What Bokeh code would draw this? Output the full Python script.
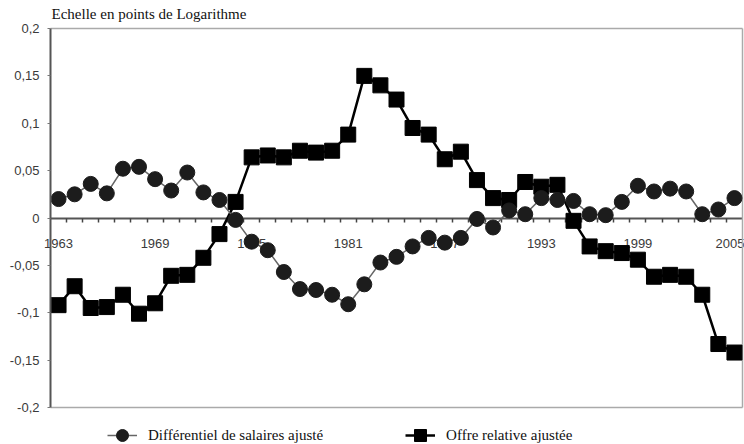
from bokeh.plotting import figure
from bokeh.models import (FixedTicker, CustomJSTickFormatter, Legend, LegendItem,
                          Range1d, Label)
from bokeh.embed import file_html
from bokeh.resources import INLINE

years = list(range(1963, 2006))

salaires = [0.020, 0.025, 0.036, 0.026, 0.052, 0.054, 0.041, 0.029, 0.048, 0.027,
            0.019, -0.002, -0.025, -0.034, -0.057, -0.075, -0.076, -0.081, -0.091,
            -0.070, -0.047, -0.041, -0.030, -0.021, -0.026, -0.021, -0.001, -0.010,
            0.008, 0.004, 0.021, 0.019, 0.018, 0.004, 0.003, 0.017, 0.034, 0.028,
            0.031, 0.028, 0.004, 0.009, 0.021]

offre = [-0.092, -0.072, -0.095, -0.094, -0.081, -0.101, -0.090, -0.061, -0.060,
         -0.042, -0.017, 0.017, 0.064, 0.066, 0.064, 0.071, 0.069, 0.071, 0.088,
         0.150, 0.140, 0.125, 0.095, 0.088, 0.062, 0.070, 0.040, 0.021, 0.019,
         0.038, 0.033, 0.035, -0.003, -0.030, -0.035, -0.037, -0.044, -0.062,
         -0.060, -0.062, -0.081, -0.133, -0.142]

x_labels = [1963, 1969, 1975, 1981, 1987, 1993, 1999, 2005]
y_ticks = [-0.2, -0.15, -0.1, -0.05, 0, 0.05, 0.1, 0.15, 0.2]

title_text = "Echelle en points de Logarithme"
name_salaires = "Différentiel de salaires ajusté"
name_offre = "Offre relative ajustée"

# plot-area limits (data units)
x_lo, x_hi = years[0] - 0.5, years[-1] + 0.5
y_lo, y_hi = y_ticks[0], y_ticks[-1]

W, H = 744, 444
AX_LEFT_PX = 50          # room for y tick labels
RIGHT_PX = 2
TOP_PX = 28              # room for the title
LEG_PX = 37              # room for the legend
px_per_year = (W - AX_LEFT_PX - RIGHT_PX) / (x_hi - x_lo)
px_per_unit = (H - TOP_PX - LEG_PX) / (y_hi - y_lo)

p = figure(width=W, height=H, output_backend="svg", toolbar_location=None,
           x_range=Range1d(x_lo - AX_LEFT_PX / px_per_year,
                           x_hi + RIGHT_PX / px_per_year),
           y_range=Range1d(y_lo - LEG_PX / px_per_unit, y_hi + TOP_PX / px_per_unit),
           min_border_left=0, min_border_right=0, min_border_top=0,
           min_border_bottom=0)

p.grid.visible = False
p.outline_line_color = None
p.background_fill_color = "white"
p.border_fill_color = "white"

# title
p.add_layout(Label(x=AX_LEFT_PX + 1, y=H - 13, x_units="screen", y_units="screen",
                   text=title_text, text_font="Liberation Serif",
                   text_font_size="15px", text_color="#111111",
                   text_baseline="middle", text_align="left"))

# plot-area border (top, right, bottom)
p.segment(x0=[x_lo, x_hi, x_lo], y0=[y_hi, y_lo, y_lo],
          x1=[x_hi, x_hi, x_hi], y1=[y_hi, y_hi, y_lo],
          line_color="#aaaaaa", line_width=1.5)

# y axis on the left edge of the plot area
p.yaxis.fixed_location = x_lo
p.yaxis.bounds = (y_lo, y_hi)
p.yaxis.ticker = FixedTicker(ticks=y_ticks, minor_ticks=[])
p.yaxis.formatter = CustomJSTickFormatter(
    code="var s = tick.toFixed(2).replace(/0+$/, '').replace(/\\.$/, ''); return s.replace('.', ',');")
p.yaxis.axis_line_color = "#555555"
p.yaxis.axis_line_width = 2
p.yaxis.major_tick_out = 3
p.yaxis.major_tick_in = 0
p.yaxis.major_tick_line_color = "#777777"
p.yaxis.major_label_text_font = "Liberation Sans"
p.yaxis.major_label_text_font_size = "13px"
p.yaxis.major_label_text_color = "#3a3a3a"
p.yaxis.major_label_standoff = 8

# x axis at zero
p.xaxis.fixed_location = 0
p.xaxis.bounds = (x_lo, x_hi)
p.xaxis.ticker = FixedTicker(ticks=x_labels,
                             minor_ticks=[y + 0.5 for y in years[:-1]])
p.xaxis.axis_line_color = "#555555"
p.xaxis.axis_line_width = 2
p.xaxis.major_tick_out = 0
p.xaxis.major_tick_in = 0
p.xaxis.minor_tick_out = 4
p.xaxis.minor_tick_in = 0
p.xaxis.minor_tick_line_color = "#444444"
p.xaxis.minor_tick_line_width = 1.5
p.xaxis.major_label_text_font = "Liberation Sans"
p.xaxis.major_label_text_font_size = "13px"
p.xaxis.major_label_text_color = "#3a3a3a"
p.xaxis.major_label_standoff = 17
p.xaxis.level = "underlay"

# series
l_off = p.line(years, offre, line_color="black", line_width=2.5)
s_off = p.scatter(years, offre, marker="square", size=15, fill_color="black",
                  line_color="black")
l_sal = p.line(years, salaires, line_color="#666666", line_width=1.5)
s_sal = p.scatter(years, salaires, marker="circle", size=15, fill_color="#1c1c1c",
                  line_color="#1c1c1c")

legend = Legend(items=[LegendItem(label=name_salaires, renderers=[l_sal, s_sal]),
                       LegendItem(label=name_offre, renderers=[l_off, s_off])],
                orientation="horizontal", location=(107, -6),
                spacing=82, padding=0, margin=0, glyph_width=30, glyph_height=30,
                label_standoff=11, border_line_color=None,
                background_fill_alpha=0,
                label_text_font="Liberation Serif", label_text_font_size="15px",
                label_text_color="#111111")
p.add_layout(legend)

open("out.html", "w").write(file_html(p, INLINE))
